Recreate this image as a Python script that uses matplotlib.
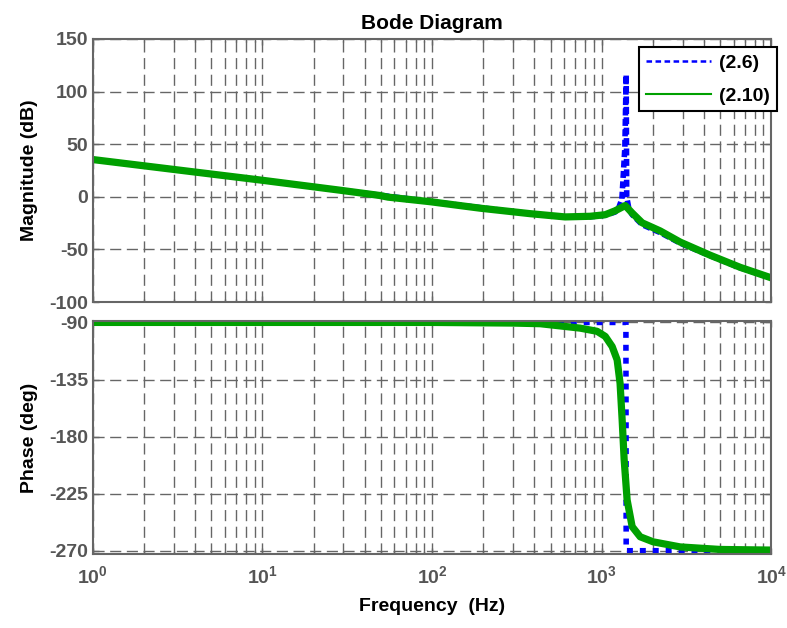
import matplotlib
matplotlib.use('Agg')
import matplotlib.pyplot as plt
from matplotlib.lines import Line2D
from matplotlib.ticker import LogLocator, FixedLocator, NullFormatter

# Daten
freq_mag_26 = [1, 10, 100, 378, 609, 855, 1050, 1200, 1250, 1316, 1370, 1395, 1405, 1450, 1513, 1733, 2213, 2904, 4365, 6560, 10000]
mag_26 = [35.4, 15.7, -4.7, -16.0, -19.3, -19.0, -17.5, -14.5, -12.0, -2.0, 47.0, 116.0, 0.0, -12.0, -17.0, -26.5, -34.0, -44.0, -56.0, -67.5, -77.0]

freq_mag_210 = [1, 10, 28.6, 49, 55, 97, 192, 378, 609, 855, 1050, 1200, 1377, 1513, 1733, 2213, 2904, 4365, 6560, 10000]
mag_210 = [35.4, 15.7, 6.3, 1.3, -0.3, -4.6, -10.8, -16.0, -19.1, -18.5, -17.0, -13.3, -8.3, -15.4, -24.7, -32.4, -43.0, -55.5, -67.0, -77.0]

freq_ph_26 = [1, 1390, 1395, 10000]
ph_26 = [-90, -90, -270, -270]

freq_ph_210 = [1, 100, 300, 434, 747, 940, 1050, 1153, 1234, 1284, 1321, 1357, 1413, 1513, 1687, 2014, 2904, 5000, 10000]
ph_210 = [-90, -90, -90.5, -91, -94.5, -97, -101, -109, -119.5, -138, -167, -198, -230, -251, -259, -263, -267, -269, -269.5]

mag_ticks = [-100, -50, 0, 50, 100, 150]
ph_ticks = [-270, -225, -180, -135, -90]
x_ticks = [1, 10, 100, 1000, 10000]
x_labels = [r'$10^{0}$', r'$10^{1}$', r'$10^{2}$', r'$10^{3}$', r'$10^{4}$']
legend_labels = ['(2.6)', '(2.10)']

plt.rcParams['font.family'] = ['Liberation Sans', 'DejaVu Sans']
plt.rcParams['font.weight'] = 'bold'
plt.rcParams['axes.unicode_minus'] = False
plt.rcParams['mathtext.fontset'] = 'custom'
plt.rcParams['mathtext.rm'] = 'Liberation Sans:bold'
plt.rcParams['mathtext.it'] = 'Liberation Sans:bold'
plt.rcParams['mathtext.bf'] = 'Liberation Sans:bold'
plt.rcParams['lines.scale_dashes'] = False

blue = '#0000ff'
green = '#00a000'
gray = '#666666'
tick_gray = '#555555'
fs = 14

fig = plt.figure(figsize=(7.87, 6.28), dpi=100)
ax1 = fig.add_axes([0.118, 0.519, 0.862, 0.419])
ax2 = fig.add_axes([0.118, 0.118, 0.862, 0.371])

# Wykres amplitudy
ax1.plot(freq_mag_26, mag_26, color=blue, lw=4, linestyle=(0, (5, 2.5)))
ax1.plot(freq_mag_210, mag_210, color=green, lw=5.2)
ax1.set_ylim(-100, 150)
ax1.set_yticks(mag_ticks)
ax1.set_ylabel('Magnitude (dB)', fontsize=fs, fontweight='bold', labelpad=8)
ax1.set_title('Bode Diagram', fontsize=15, fontweight='bold', pad=7)

# Wykres fazy
ax2.plot(freq_ph_26, ph_26, color=blue, lw=4, linestyle=(0, (4.3, 5)))
ax2.plot(freq_ph_210, ph_210, color=green, lw=5.2)
ax2.set_ylim(-272.5, -88.8)
ax2.set_yticks(ph_ticks)
ax2.set_ylabel('Phase (deg)', fontsize=fs, fontweight='bold', labelpad=8)
ax2.set_xlabel('Frequency  (Hz)', fontsize=fs, fontweight='bold', labelpad=8)

for ax in (ax1, ax2):
    ax.set_xscale('log')
    ax.set_xlim(1, 10000)
    ax.xaxis.set_major_locator(FixedLocator(x_ticks))
    ax.xaxis.set_minor_locator(LogLocator(base=10, subs=range(2, 10), numticks=20))
    ax.xaxis.set_minor_formatter(NullFormatter())
    ax.grid(True, which='major', color=gray, lw=1.0, linestyle=(0, (8, 4)))
    ax.grid(True, which='minor', axis='x', color=gray, lw=1.0, linestyle=(0, (8, 4)))
    ax.tick_params(which='both', direction='in', top=True, right=True, colors=gray,
                   labelcolor=tick_gray, labelsize=fs, width=1.0)
    ax.tick_params(which='major', length=4)
    ax.tick_params(which='minor', length=2.5)
    for s in ax.spines.values():
        s.set_color(gray)
        s.set_linewidth(1.5)
    for lab in ax.get_yticklabels():
        lab.set_fontweight('bold')

ax1.set_xticklabels([])
ax2.set_xticklabels(x_labels)
ax2.tick_params(axis='x', which='major', pad=8)

# Legenda
handles = [Line2D([], [], color=blue, lw=1.8, linestyle=(0, (4, 2.5))),
           Line2D([], [], color=green, lw=1.5)]
leg = ax1.legend(handles, legend_labels, loc='upper right', bbox_to_anchor=(0.987, 0.925),
                 bbox_transform=fig.transFigure, borderaxespad=0, fancybox=False,
                 framealpha=1, edgecolor='black', handlelength=3.35, handletextpad=0.4,
                 borderpad=0.35, labelspacing=0.8,
                 prop={'size': fs, 'weight': 'bold'})
leg.get_frame().set_linewidth(1.5)

plt.savefig('out.png', dpi=100)
